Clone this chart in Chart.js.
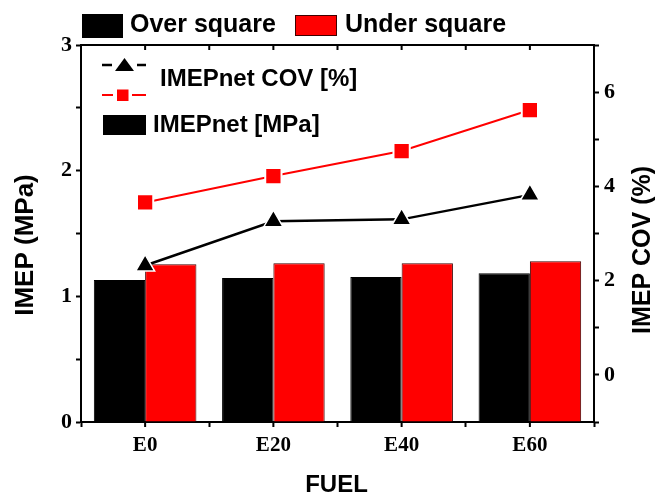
<!DOCTYPE html>
<html>
<head>
<meta charset="utf-8">
<script src="https://cdn.jsdelivr.net/npm/chart.js@4/dist/chart.umd.min.js"></script>
<style>
  html, body { margin: 0; padding: 0; background: #fff; }
  canvas { display: block; }
</style>
</head>
<body>
<canvas id="c" width="662" height="493"></canvas>
<script>
// Fuel blends on the x axis
const fuels = ['E0', 'E20', 'E40', 'E60'];
// Net IMEP (MPa), left axis
const imepOver = [1.13, 1.146, 1.154, 1.183];
const imepUnder = [1.255, 1.263, 1.263, 1.279];
// Cycle-to-cycle COV of IMEP (%), right axis
const covOver = [2.32, 3.26, 3.30, 3.82];
const covUnder = [3.66, 4.22, 4.75, 5.62];
// Labelled ticks
const imepTicks = [0, 1, 2, 3];
const covTicks = [0, 2, 4, 6];

const SANS = "'Liberation Sans', Arial, sans-serif";
const SERIF = "'Liberation Serif', 'Times New Roman', serif";
const RED = '#ff0000';

// Closed frame: top border with inward ticks, plus ticks at category centres
const framePlugin = {
  id: 'frame',
  afterDatasetsDraw(chart) {
    const { ctx, chartArea: a } = chart;
    const x = chart.scales.x;
    ctx.save();
    ctx.strokeStyle = '#000';
    ctx.lineWidth = 2;
    ctx.beginPath();
    ctx.moveTo(a.left - 1, a.top);
    ctx.lineTo(a.right + 1, a.top);
    ctx.stroke();
    const pos = [a.left, a.right];
    for (let i = 0; i < fuels.length; i++) {
      const c = x.getPixelForValue(i);
      pos.push(c);
      if (i < fuels.length - 1) pos.push((c + x.getPixelForValue(i + 1)) / 2);
    }
    ctx.beginPath();
    pos.forEach(p => {
      ctx.moveTo(p, a.top);
      ctx.lineTo(p, a.top + 5);
    });
    for (let i = 0; i < fuels.length; i++) {
      const c = x.getPixelForValue(i);
      ctx.moveTo(c, a.bottom);
      ctx.lineTo(c, a.bottom + 5);
    }
    ctx.stroke();
    ctx.restore();
  }
};

// Legends and axis titles
const textPlugin = {
  id: 'texts',
  afterDraw(chart) {
    const { ctx } = chart;
    const ds = chart.data.datasets;
    ctx.save();
    ctx.textBaseline = 'alphabetic';
    ctx.textAlign = 'left';
    ctx.fillStyle = '#000';

    // Bar legend across the top
    ctx.font = 'bold 25px ' + SANS;
    ctx.fillStyle = ds[0].backgroundColor;
    ctx.fillRect(82, 14, 41, 24);
    ctx.fillStyle = '#000';
    ctx.fillText(ds[0].label, 130, 32);
    ctx.fillStyle = ds[1].backgroundColor;
    ctx.fillRect(295, 15, 42, 21);
    ctx.strokeStyle = '#400000';
    ctx.lineWidth = 1;
    ctx.strokeRect(295.5, 15.5, 41, 20);
    ctx.fillStyle = '#000';
    ctx.fillText(ds[1].label, 345, 32);

    // Inner legend: COV lines and IMEP bar key
    ctx.font = 'bold 24px ' + SANS;
    ctx.lineWidth = 2.5;
    ctx.strokeStyle = '#000';
    ctx.beginPath();
    ctx.moveTo(102, 65); ctx.lineTo(112, 65);
    ctx.moveTo(137, 65); ctx.lineTo(146, 65);
    ctx.stroke();
    ctx.fillStyle = '#000';
    ctx.beginPath();
    ctx.moveTo(124.5, 58); ctx.lineTo(134, 71); ctx.lineTo(115, 71);
    ctx.closePath();
    ctx.fill();
    ctx.fillText('IMEPnet COV [%]', 160, 86);

    ctx.strokeStyle = RED;
    ctx.lineWidth = 2;
    ctx.beginPath();
    ctx.moveTo(102, 95); ctx.lineTo(113, 95);
    ctx.moveTo(132, 95); ctx.lineTo(146, 95);
    ctx.stroke();
    ctx.fillStyle = RED;
    ctx.fillRect(117, 89.5, 11.5, 11.5);

    ctx.fillStyle = '#000';
    ctx.fillRect(103, 115, 43, 20);
    ctx.fillText('IMEPnet [MPa]', 153, 132);

    // Axis titles
    ctx.font = 'bold 24px ' + SANS;
    ctx.textAlign = 'center';
    ctx.fillText('FUEL', 336.5, 492);

    ctx.textBaseline = 'middle';
    ctx.font = 'bold 26px ' + SANS;
    ctx.save();
    ctx.translate(26, 245);
    ctx.rotate(-Math.PI / 2);
    ctx.fillText('IMEP (MPa)', 0, 0);
    ctx.restore();

    ctx.font = 'bold 25px ' + SANS;
    ctx.save();
    ctx.translate(643, 250);
    ctx.rotate(-Math.PI / 2);
    ctx.fillText('IMEP COV (%)', 0, 0);
    ctx.restore();

    ctx.restore();
  }
};

const axisGrid = {
  drawOnChartArea: false,
  drawTicks: true,
  tickLength: 5,
  tickWidth: 2,
  tickColor: '#000',
  color: '#000'
};
const axisBorder = { display: true, color: '#000', width: 2 };

new Chart(document.getElementById('c'), {
  type: 'bar',
  data: {
    labels: fuels,
    datasets: [
      {
        label: 'Over square',
        data: imepOver,
        yAxisID: 'y',
        backgroundColor: '#000',
        borderColor: '#000',
        borderWidth: 1,
        order: 2
      },
      {
        label: 'Under square',
        data: imepUnder,
        yAxisID: 'y',
        backgroundColor: RED,
        borderColor: '#400000',
        borderWidth: 1,
        order: 2
      },
      {
        type: 'line',
        label: 'IMEPnet COV [%] Over square',
        data: covOver,
        yAxisID: 'y1',
        borderColor: '#000',
        borderWidth: 2.5,
        backgroundColor: '#000',
        pointStyle: 'triangle',
        pointRadius: 11,
        pointBorderColor: '#fff',
        pointBorderWidth: 1.5,
        tension: 0,
        order: 1
      },
      {
        type: 'line',
        label: 'IMEPnet COV [%] Under square',
        data: covUnder,
        yAxisID: 'y1',
        borderColor: RED,
        borderWidth: 2,
        backgroundColor: RED,
        pointStyle: 'rect',
        pointRadius: 11.5,
        pointBorderColor: '#fff',
        pointBorderWidth: 2,
        tension: 0,
        order: 0
      }
    ]
  },
  options: {
    responsive: false,
    animation: false,
    events: [],
    layout: { padding: { top: 45, left: 0, right: 0, bottom: 0 } },
    plugins: {
      legend: { display: false },
      tooltip: { enabled: false }
    },
    datasets: {
      bar: { categoryPercentage: 0.8, barPercentage: 1.0 }
    },
    scales: {
      x: {
        type: 'category',
        offset: true,
        grid: Object.assign({}, axisGrid, { offset: true }),
        border: axisBorder,
        ticks: {
          color: '#000',
          padding: 6,
          font: { family: SERIF, size: 21, weight: 'bold' }
        },
        afterFit(s) { s.height = 71; }
      },
      y: {
        position: 'left',
        min: 0,
        max: 3,
        grid: axisGrid,
        border: axisBorder,
        ticks: {
          stepSize: 0.5,
          color: '#000',
          padding: 4,
          font: { family: SERIF, size: 22, weight: 'bold' },
          callback: v => imepTicks.includes(v) ? String(v) : ''
        },
        afterFit(s) { s.width = 81; }
      },
      y1: {
        position: 'right',
        min: -1,
        max: 7,
        grid: axisGrid,
        border: axisBorder,
        ticks: {
          stepSize: 1,
          color: '#000',
          padding: 5,
          font: { family: SERIF, size: 22, weight: 'bold' },
          callback: v => covTicks.includes(v) ? String(v) : ''
        },
        afterFit(s) { s.width = 68; }
      }
    }
  },
  plugins: [framePlugin, textPlugin]
});
</script>
</body>
</html>
